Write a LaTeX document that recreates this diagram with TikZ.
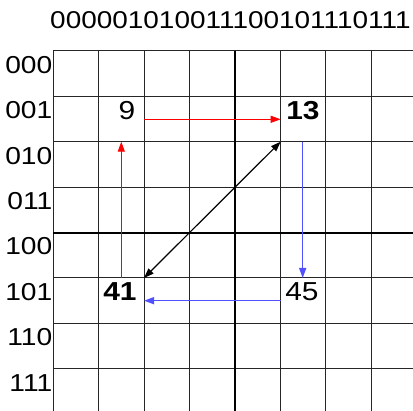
\documentclass[tikz,border=0pt]{standalone}
\usepackage{fontspec}
\setmainfont[FakeStretch=1.15]{Liberation Sans}
\usetikzlibrary{arrows.meta}
\definecolor{myblue}{RGB}{80,80,255}
\tikzset{
  gridline/.style={line width=1pt, black!85},
  axisline/.style={line width=2pt, black},
  rowlabel/.style={inner sep=0pt, anchor=base east, font=\fontsize{24.5}{24.5}\selectfont},
  cellnum/.style={inner sep=0pt, anchor=base, font=\fontsize{26}{26}\selectfont},
  toplabel/.style={inner sep=0pt, anchor=base, font=\fontsize{24.3}{24.3}\selectfont},
  tip/.style={-{Triangle[length=10pt,width=7pt]}},
  redarrow/.style={tip, draw=red, line width=0.9pt},
  bluearrow/.style={tip, draw=myblue, line width=1.4pt},
  blackarrow/.style={{Triangle[length=10pt,width=7pt]}-{Triangle[length=10pt,width=7pt]}, draw=black, line width=1.2pt}
}
\begin{document}
\begin{tikzpicture}[x=1pt,y=1pt]
\useasboundingbox (0,0) rectangle (413,-411);
\fill[white] (0,0) rectangle (413,-411);
\begin{scope}
\clip (0,0) rectangle (413,-411);
\foreach \i in {0,...,8} {
  \draw[gridline] ({53.3+\i*45.4},-51) -- ({53.3+\i*45.4},{-51-8*45.4});
  \draw[gridline] (53.3,{-51-\i*45.4}) -- ({53.3+8*45.4},{-51-\i*45.4});
}
\draw[axisline] ({53.3+4*45.4},-51) -- ({53.3+4*45.4},{-51-8*45.4});
\draw[axisline] (53.3,{-51-4*45.4}) -- ({53.3+8*45.4},{-51-4*45.4});
\end{scope}

\node[toplabel] (top) at (230.5,-28.3) {000001010011100101110111};

\node[rowlabel] (r0) at (52.5,-73.3) {000};
\node[rowlabel] (r1) at (52.5,-118.7) {001};
\node[rowlabel] (r2) at (52.5,-164.1) {010};
\node[rowlabel] (r3) at (52.5,-209.5) {011};
\node[rowlabel] (r4) at (52.5,-254.9) {100};
\node[rowlabel] (r5) at (52.5,-300.3) {101};
\node[rowlabel] (r6) at (52.5,-345.7) {110};
\node[rowlabel] (r7) at (52.5,-391.1) {111};

\node[cellnum] (n9) at (127,-119.3) {9};
\node[cellnum] (n13) at (303,-119.3) {\bfseries 13};
\node[cellnum] (n41) at (120,-301) {\bfseries 41};
\node[cellnum] (n45) at (302,-301) {45};

\coordinate (a9) at (144,-119.3);
\coordinate (b13) at (280.7,-119.3);
\coordinate (c13) at (302.7,-141.7);
\coordinate (d45) at (302.7,-278);
\coordinate (e45) at (280.7,-300.7);
\coordinate (f41) at (144,-300.7);
\coordinate (g41) at (121.3,-278);
\coordinate (h9) at (121.3,-141.7);
\coordinate (k41) at (144,-278);
\coordinate (k13) at (280.7,-141.7);

\draw[redarrow] (a9) -- (b13);
\draw[redarrow] (g41) -- (h9);
\draw[bluearrow] (c13) -- (d45);
\draw[bluearrow] (e45) -- (f41);
\draw[blackarrow] (k41) -- (k13);
\end{tikzpicture}
\end{document}
